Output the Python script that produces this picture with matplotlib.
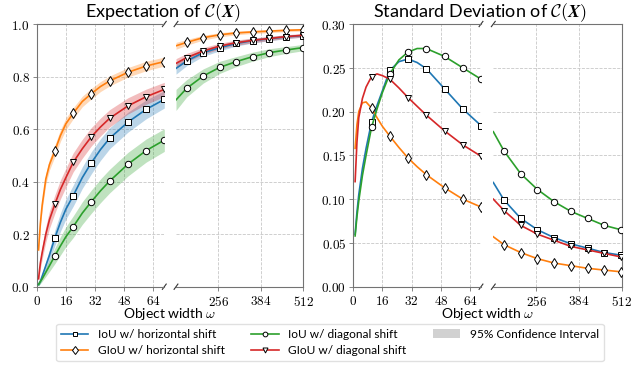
import matplotlib
matplotlib.use("Agg")
import matplotlib.pyplot as plt
from matplotlib.ticker import FuncFormatter
from matplotlib.patches import Patch
from matplotlib.lines import Line2D

plt.rcParams['mathtext.fontset'] = 'cm'
plt.rcParams['font.family'] = ['Lato', 'DejaVu Sans']

# ---------------- data ----------------
left_x = [1, 2, 3, 5, 7, 10, 13, 16, 20, 25, 30, 35, 40, 50, 60, 70]
right_x = [128, 160, 210, 260, 310, 360, 410, 460, 510, 512]
left_mark_x = [10, 20, 30, 40, 50, 60, 70]
right_mark_x = [160, 210, 260, 310, 360, 410, 460, 510]

labels = ["IoU w/ horizontal shift", "GIoU w/ horizontal shift",
          "IoU w/ diagonal shift", "GIoU w/ diagonal shift"]
ci_label = "95% Confidence Interval"

# Expectation (left / right part of broken axis)
exp_iou_h_L = [0.008, 0.02, 0.04, 0.08, 0.12, 0.187, 0.245, 0.295, 0.346, 0.415, 0.472, 0.522, 0.565, 0.626, 0.675, 0.713]
exp_giou_h_L = [0.14, 0.24, 0.31, 0.41, 0.465, 0.518, 0.575, 0.62, 0.660, 0.705, 0.735, 0.762, 0.783, 0.816, 0.840, 0.857]
exp_iou_d_L = [0.008, 0.02, 0.03, 0.055, 0.08, 0.118, 0.155, 0.19, 0.228, 0.28, 0.324, 0.365, 0.402, 0.466, 0.518, 0.558]
exp_giou_d_L = [0.03, 0.09, 0.13, 0.20, 0.255, 0.315, 0.37, 0.415, 0.473, 0.525, 0.571, 0.608, 0.641, 0.688, 0.723, 0.751]

exp_iou_h_R = [0.831, 0.859, 0.891, 0.910, 0.926, 0.937, 0.944, 0.951, 0.956, 0.956]
exp_giou_h_R = [0.917, 0.930, 0.948, 0.959, 0.966, 0.970, 0.973, 0.976, 0.978, 0.978]
exp_iou_d_R = [0.711, 0.755, 0.802, 0.835, 0.857, 0.876, 0.891, 0.901, 0.910, 0.910]
exp_giou_d_R = [0.850, 0.872, 0.897, 0.916, 0.929, 0.938, 0.945, 0.952, 0.957, 0.957]

# 95% CI half widths of the expectation
ci_iou_h_L = [0.005, 0.008, 0.01, 0.016, 0.022, 0.03, 0.035, 0.038, 0.04, 0.041, 0.042, 0.041, 0.04, 0.038, 0.036, 0.033]
ci_giou_h_L = [0.01, 0.015, 0.018, 0.02, 0.021, 0.022, 0.022, 0.022, 0.021, 0.02, 0.02, 0.019, 0.019, 0.018, 0.018, 0.017]
ci_iou_d_L = [0.005, 0.008, 0.01, 0.016, 0.022, 0.03, 0.035, 0.038, 0.041, 0.043, 0.044, 0.045, 0.045, 0.045, 0.044, 0.043]
ci_giou_d_L = [0.01, 0.02, 0.025, 0.03, 0.033, 0.035, 0.036, 0.036, 0.036, 0.036, 0.035, 0.034, 0.033, 0.031, 0.029, 0.027]

ci_iou_h_R = [0.022, 0.018, 0.014, 0.012, 0.01, 0.009, 0.008, 0.007, 0.006, 0.006]
ci_giou_h_R = [0.013, 0.011, 0.009, 0.008, 0.007, 0.006, 0.006, 0.005, 0.005, 0.005]
ci_iou_d_R = [0.04, 0.033, 0.027, 0.023, 0.019, 0.017, 0.015, 0.013, 0.012, 0.012]
ci_giou_d_R = [0.018, 0.016, 0.013, 0.011, 0.01, 0.009, 0.008, 0.007, 0.007, 0.007]

# Standard deviation
std_iou_h_L = [0.060, 0.085, 0.105, 0.135, 0.158, 0.188, 0.207, 0.224, 0.247, 0.257, 0.260, 0.256, 0.249, 0.226, 0.203, 0.184]
std_giou_h_L = [0.158, 0.185, 0.200, 0.210, 0.211, 0.204, 0.193, 0.183, 0.172, 0.159, 0.147, 0.137, 0.128, 0.113, 0.100, 0.091]
std_iou_d_L = [0.058, 0.080, 0.098, 0.127, 0.150, 0.182, 0.203, 0.222, 0.243, 0.259, 0.268, 0.272, 0.272, 0.263, 0.250, 0.237]
std_giou_d_L = [0.120, 0.165, 0.193, 0.215, 0.228, 0.240, 0.243, 0.241, 0.237, 0.227, 0.216, 0.206, 0.196, 0.178, 0.162, 0.149]

std_iou_h_R = [0.119, 0.099, 0.078, 0.065, 0.056, 0.049, 0.044, 0.039, 0.036, 0.036]
std_giou_h_R = [0.057, 0.048, 0.039, 0.032, 0.027, 0.024, 0.021, 0.019, 0.017, 0.017]
std_iou_d_R = [0.177, 0.155, 0.129, 0.111, 0.097, 0.086, 0.078, 0.070, 0.065, 0.065]
std_giou_d_R = [0.100, 0.087, 0.070, 0.060, 0.053, 0.046, 0.042, 0.038, 0.034, 0.034]

left_xticks = [0, 16, 32, 48, 64]
right_xticks = [256, 384, 512]
exp_yticks = [0.0, 0.2, 0.4, 0.6, 0.8, 1.0]
std_yticks = [0.00, 0.05, 0.10, 0.15, 0.20, 0.25, 0.30]

# ---------------- styles ----------------
colors = ['#1f77b4', '#ff7f0e', '#2ca02c', '#d62728']
markers = ['s', 'd', 'o', 'v']
msizes = [4.6, 5.6, 4.6, 4.8]

W, H = 642, 368
fig = plt.figure(figsize=(W / 100, H / 100), dpi=100)


def px_axes(x0, x1, y0=24, y1=286.7):
    return fig.add_axes([x0 / W, 1 - y1 / H, (x1 - x0) / W, (y1 - y0) / H])


ax1L = px_axes(36.7, 164.3)
ax1R = px_axes(176.0, 303.3)
ax2L = px_axes(353.3, 481.0)
ax2R = px_axes(493.3, 621.7)

spine_c = '0.45'


def style(axL, axR, yticks, yfmt, ylim):
    for ax in (axL, axR):
        ax.set_ylim(*ylim)
        ax.set_yticks(yticks)
        ax.grid(True, ls='--', lw=0.6, color='0.78')
        ax.set_axisbelow(True)
        for s in ax.spines.values():
            s.set_color(spine_c)
            s.set_linewidth(0.8)
        ax.tick_params(length=3, width=0.6, color=spine_c, labelsize=9.5, pad=2)
    axL.set_xlim(0, 70)
    axR.set_xlim(128, 512)
    axL.set_xticks(left_xticks)
    axR.set_xticks(right_xticks)
    fx = FuncFormatter(lambda v, p: r'$%d$' % int(round(v)))
    axL.xaxis.set_major_formatter(fx)
    axR.xaxis.set_major_formatter(fx)
    axL.yaxis.set_major_formatter(FuncFormatter(lambda v, p: yfmt % v))
    axL.spines['right'].set_visible(False)
    axR.spines['left'].set_visible(False)
    axR.tick_params(left=False, labelleft=False)
    # break marks
    dx, dy = 0.015, 0.010
    kw = dict(color='0.2', lw=0.8, clip_on=False)
    axL.plot((1 - dx, 1 + dx), (1 - dy, 1 + dy), transform=axL.transAxes, **kw)
    axL.plot((1 - dx, 1 + dx), (-dy, dy), transform=axL.transAxes, **kw)
    axR.plot((-dx, dx), (1 - dy, 1 + dy), transform=axR.transAxes, **kw)
    axR.plot((-dx, dx), (-dy, dy), transform=axR.transAxes, **kw)


def draw(ax, xs, mark_x, ys, c, m, ms, ci=None):
    idx = [i for i, x in enumerate(xs) if x in mark_x]
    if ci is not None:
        lo = [y - h for y, h in zip(ys, ci)]
        hi = [y + h for y, h in zip(ys, ci)]
        ax.fill_between(xs, lo, hi, color=c, alpha=0.3, lw=0, zorder=1)
    ax.plot(xs, ys, color=c, lw=1.2, marker=m, markevery=idx, ms=ms,
            mfc='white', mec='black', mew=0.7, zorder=3)


exp_L = [exp_iou_h_L, exp_giou_h_L, exp_iou_d_L, exp_giou_d_L]
exp_R = [exp_iou_h_R, exp_giou_h_R, exp_iou_d_R, exp_giou_d_R]
ci_L = [ci_iou_h_L, ci_giou_h_L, ci_iou_d_L, ci_giou_d_L]
ci_R = [ci_iou_h_R, ci_giou_h_R, ci_iou_d_R, ci_giou_d_R]
std_L = [std_iou_h_L, std_giou_h_L, std_iou_d_L, std_giou_d_L]
std_R = [std_iou_h_R, std_giou_h_R, std_iou_d_R, std_giou_d_R]

for k in range(4):
    draw(ax1L, left_x, left_mark_x, exp_L[k], colors[k], markers[k], msizes[k], ci_L[k])
    draw(ax1R, right_x, right_mark_x, exp_R[k], colors[k], markers[k], msizes[k], ci_R[k])
    draw(ax2L, left_x, left_mark_x, std_L[k], colors[k], markers[k], msizes[k])
    draw(ax2R, right_x, right_mark_x, std_R[k], colors[k], markers[k], msizes[k])

style(ax1L, ax1R, exp_yticks, r'$%.1f$', (0, 1.0))
style(ax2L, ax2R, std_yticks, r'$%.2f$', (0, 0.30))

# titles and x labels
fig.text(163 / W, 1 - 13 / H, r'Expectation of $\mathcal{C}(\mathbfit{X})$',
         ha='center', va='center', fontsize=13)
fig.text(480 / W, 1 - 13 / H, r'Standard Deviation of $\mathcal{C}(\mathbfit{X})$',
         ha='center', va='center', fontsize=13)
fig.text(170 / W, 1 - 314 / H, r'Object width $\omega$', ha='center', va='center', fontsize=10)
fig.text(487.5 / W, 1 - 314 / H, r'Object width $\omega$', ha='center', va='center', fontsize=10)

# legend
handles = []
for k in range(4):
    handles.append(Line2D([], [], color=colors[k], lw=1.2, marker=markers[k], ms=msizes[k] - 1.2,
                          mfc='white', mec='black', mew=0.7, label=labels[k]))
handles.append(Patch(facecolor='0.82', edgecolor='none', label=ci_label))
fig.legend(handles=handles, ncol=3, loc='lower center', bbox_to_anchor=(330 / W, 0.003),
           fontsize=8.6, frameon=True, edgecolor='0.85', handlelength=2.3,
           columnspacing=2.2, borderpad=0.4, labelspacing=0.45, fancybox=True)

fig.savefig('out.png', dpi=100)
